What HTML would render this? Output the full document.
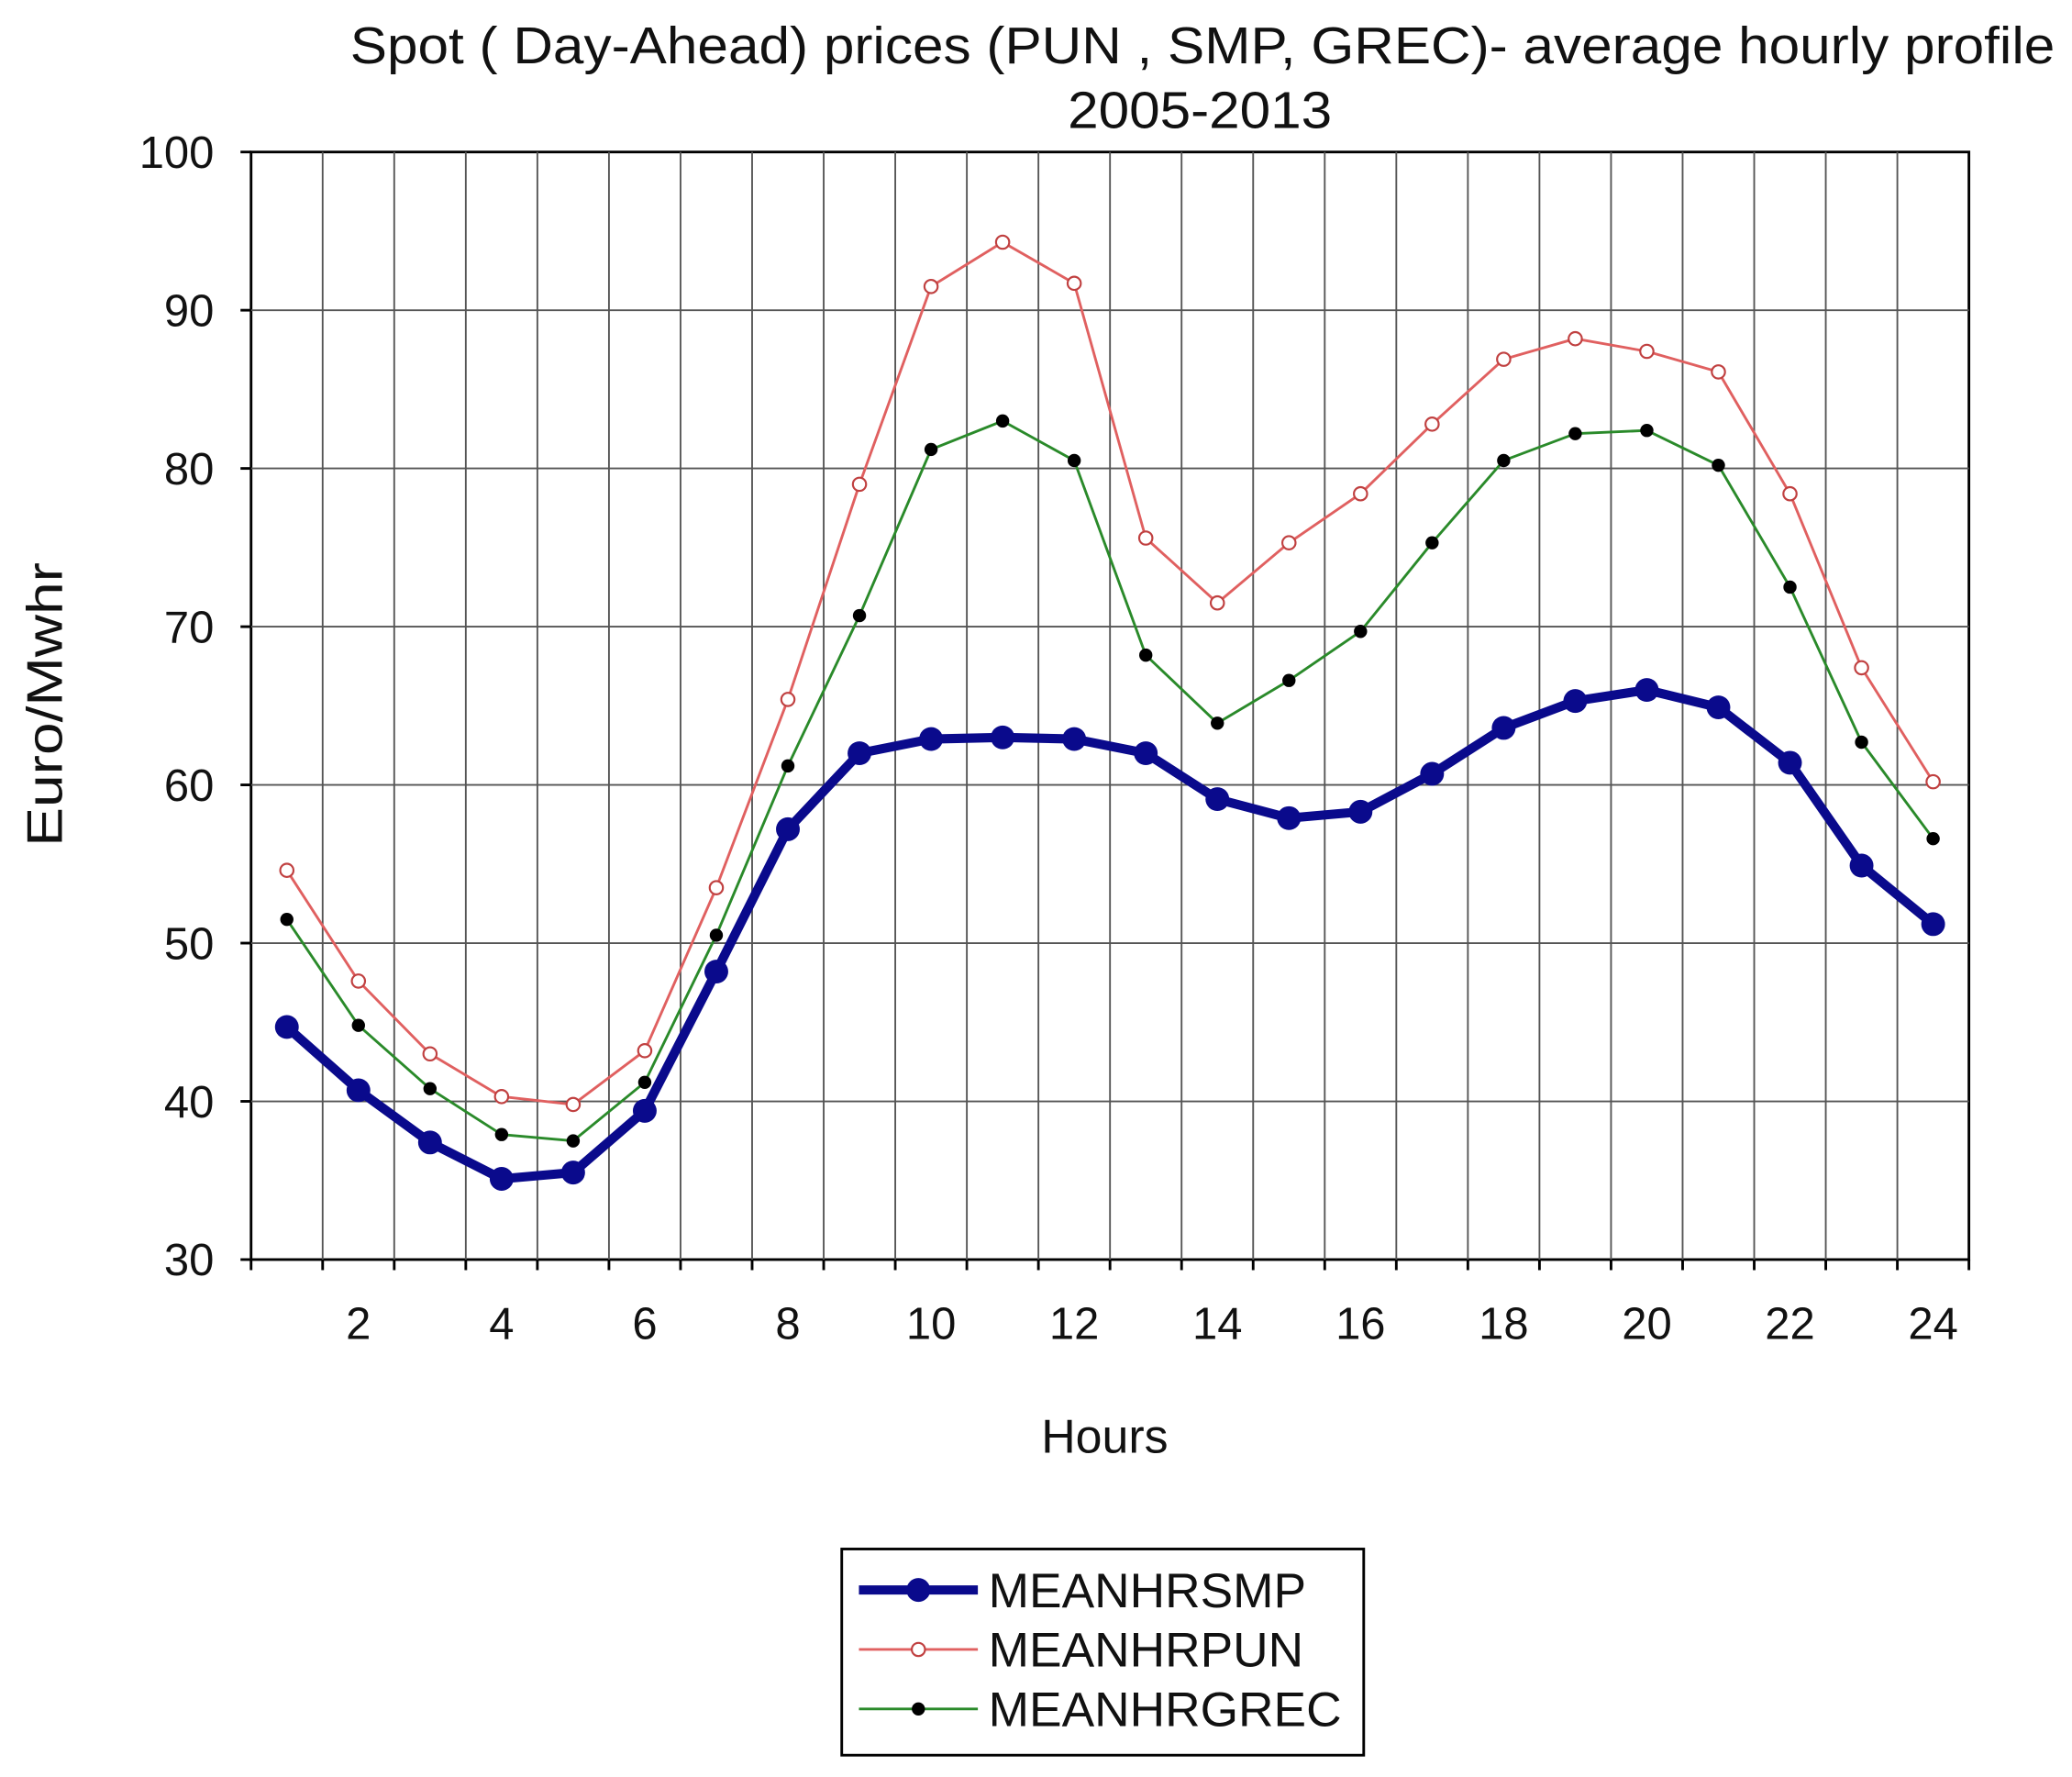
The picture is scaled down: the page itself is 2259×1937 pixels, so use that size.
<!DOCTYPE html>
<html><head><meta charset="utf-8"><style>
html,body{margin:0;padding:0;background:#fff}
svg{display:block}
text{font-family:"Liberation Sans",Arial,sans-serif;fill:#111}
</style></head><body>
<svg id="chart" width="2259" height="1937" viewBox="0 0 1568 1344.5" preserveAspectRatio="none" xmlns="http://www.w3.org/2000/svg">
<rect x="0" y="0" width="1568" height="1344.5" fill="#fff"/>
<text x="910" y="48" font-size="39" text-anchor="middle" textLength="1290" lengthAdjust="spacingAndGlyphs">Spot ( Day-Ahead) prices (PUN , SMP, GREC)- average hourly profile</text>
<text x="908" y="97" font-size="39" text-anchor="middle" textLength="200" lengthAdjust="spacingAndGlyphs">2005-2013</text>
<g id="grid"></g>
<g id="axes"></g>
<g id="series"></g>
<text transform="translate(47,533) rotate(-90)" font-size="38" text-anchor="middle" textLength="215" lengthAdjust="spacingAndGlyphs">Euro/Mwhr</text>
<text x="836" y="1099" font-size="36" text-anchor="middle">Hours</text>
<g>
<rect x="637" y="1172" width="395" height="156" fill="#fff" stroke="#000" stroke-width="2"/>
<g>
<line x1="650" y1="1203" x2="740" y2="1203" stroke="#0a0a8c" stroke-width="7"/>
<circle cx="695" cy="1203" r="9" fill="#0a0a8c"/>
<text x="748" y="1216" font-size="37">MEANHRSMP</text></g>
<g>
<line x1="650" y1="1248" x2="740" y2="1248" stroke="#e06060" stroke-width="2"/>
<circle cx="695" cy="1248" r="5" fill="#fff" stroke="#c04040" stroke-width="1.5"/>
<text x="748" y="1261" font-size="37">MEANHRPUN</text></g>
<g>
<line x1="650" y1="1293" x2="740" y2="1293" stroke="#2a8a2a" stroke-width="2"/>
<circle cx="695" cy="1293" r="5" fill="#000"/>
<text x="748" y="1306" font-size="37">MEANHRGREC</text></g>
</g>
</svg>
<script>
const hours = [1,2,3,4,5,6,7,8,9,10,11,12,13,14,15,16,17,18,19,20,21,22,23,24];
const smp = [44.7,40.7,37.4,35.1,35.5,39.4,48.2,57.2,62.0,62.9,63.0,62.9,62.0,59.1,57.9,58.3,60.7,63.6,65.3,66.0,64.9,61.4,54.9,51.2];
const pun = [54.6,47.6,43.0,40.3,39.8,43.2,53.5,65.4,79.0,91.5,94.3,91.7,75.6,71.5,75.3,78.4,82.8,86.9,88.2,87.4,86.1,78.4,67.4,60.2];
const grec = [51.5,44.8,40.8,37.9,37.5,41.2,50.5,61.2,70.7,81.2,83.0,80.5,68.2,63.9,66.6,69.7,75.3,80.5,82.2,82.4,80.2,72.5,62.7,56.6];
const yTicks = [30,40,50,60,70,80,90,100];
const xTickLabels = [2,4,6,8,10,12,14,16,18,20,22,24];

const L=190,R=1490,T=115,B=953;
const X=h=>L+(h-0.5)*(R-L)/24;
const Y=v=>B-(v-30)*(B-T)/70;
const NS='http://www.w3.org/2000/svg';
function mk(tag,attrs,parent){const e=document.createElementNS(NS,tag);for(const k in attrs)e.setAttribute(k,attrs[k]);parent.appendChild(e);return e;}
const grid=document.getElementById('grid'),axes=document.getElementById('axes'),series=document.getElementById('series');
mk('rect',{x:L,y:T,width:R-L,height:B-T,fill:'#fff',stroke:'#000','stroke-width':2},grid);
for(let i=1;i<24;i++){const l=mk('line',{x1:X(i+0.5),x2:X(i+0.5),y1:T,y2:B,stroke:'#555','stroke-width':1.3},grid);

}
yTicks.forEach(v=>{
 if(v>30&&v<100){const g=mk('line',{x1:L,x2:R,y1:Y(v),y2:Y(v),stroke:'#555','stroke-width':1.3},grid);
 
 }
 mk('line',{x1:L-8,x2:L,y1:Y(v),y2:Y(v),stroke:'#000','stroke-width':2},axes);
 const t=mk('text',{x:L-28,y:Y(v)+12,'font-size':34,'text-anchor':'end'},axes);t.textContent=v;
 
 
});
for(let i=0;i<=24;i++){mk('line',{x1:X(i+0.5),x2:X(i+0.5),y1:B,y2:B+8,stroke:'#000','stroke-width':2},axes);}
xTickLabels.forEach(h=>{const t=mk('text',{x:X(h),y:B+60,'font-size':34,'text-anchor':'middle'},axes);t.textContent=h;
 
 });
function draw(data,name,color,w,r,fill,stroke){
 const g=mk('g',{},series);
 
 
 mk('polyline',{points:data.map((v,i)=>X(hours[i])+','+Y(v)).join(' '),fill:'none',stroke:color,'stroke-width':w,'stroke-linejoin':'round'},g);
 data.forEach((v,i)=>{const c=mk('circle',{cx:X(hours[i]),cy:Y(v),r:r,fill:fill,stroke:stroke,'stroke-width':1.5},g);
 
 });
}
draw(pun,'series-pun','#e06060',2,5,'#fff','#c04040');
draw(grec,'series-grec','#2a8a2a',2,5,'#000','none');
draw(smp,'series-smp','#0a0a8c',7,9,'#0a0a8c','none');
</script>
</body></html>
